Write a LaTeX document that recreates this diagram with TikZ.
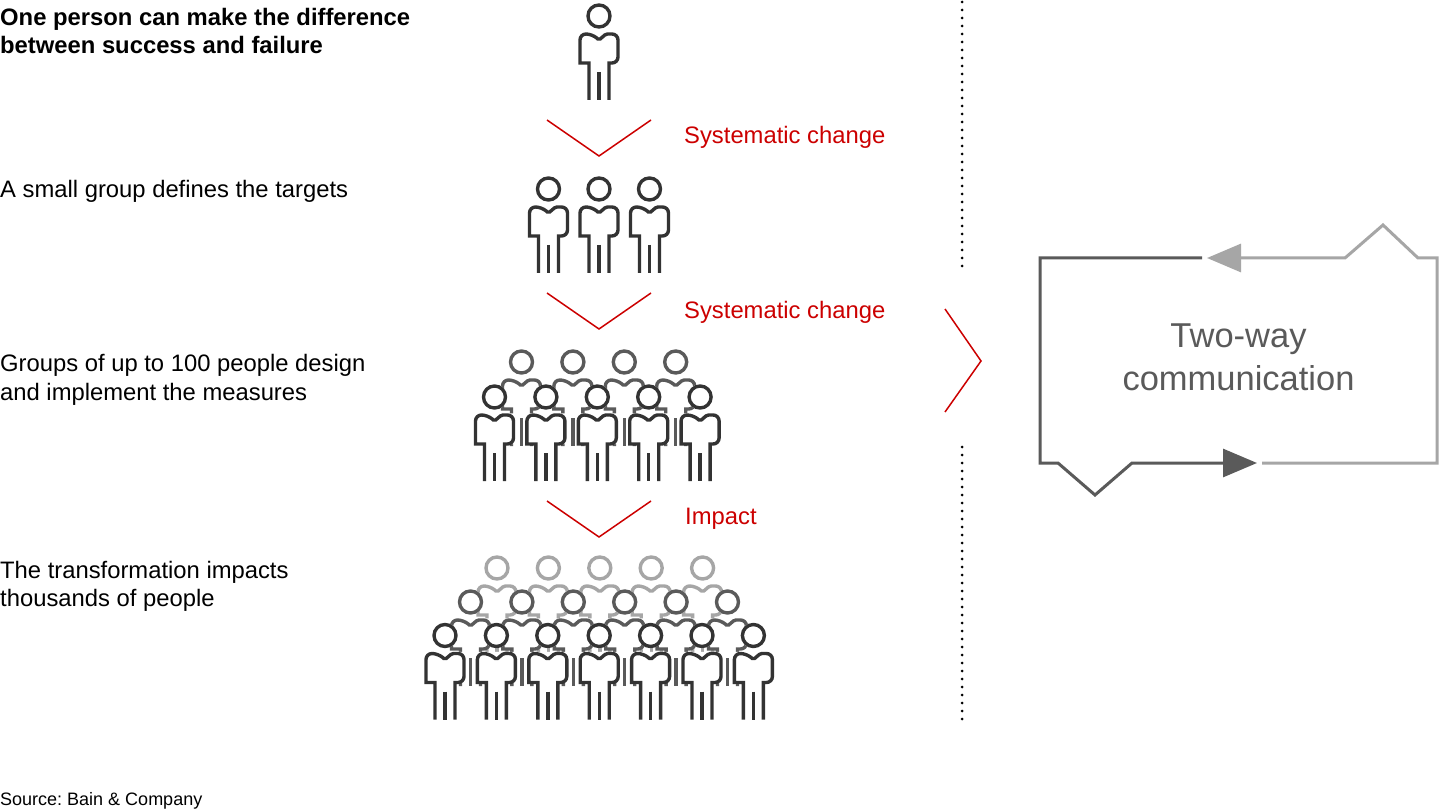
\documentclass[tikz,border=0pt]{standalone}
\usepackage{fontspec}
\setmainfont{Liberation Sans}
\usepackage{tikz}
\usetikzlibrary{calc}
\usetikzlibrary{math}
\usetikzlibrary{arrows.meta}
\definecolor{fonce}{HTML}{333333}
\definecolor{moyen}{HTML}{5A5A5A}
\definecolor{clair}{HTML}{A6A6A6}
\definecolor{rouge}{HTML}{CC0000}
\frenchspacing

\begin{document}
\begin{tikzpicture}[x=1pt,y=-1pt,
        texte/.style={anchor=base west,inner sep=0pt,align=left,font=\fontsize{23.8}{28.5}\selectfont},
        gras/.style={texte,font=\fontsize{23.8}{27.5}\selectfont\bfseries},
        etape/.style={texte,text=rouge},
        chevron/.style={rouge,line width=1.5pt},
        pointille/.style={line width=3pt,line cap=round,dash pattern=on 0pt off 8pt},
        boucle/.style={line width=3pt,-{Triangle[length=34pt,width=28pt]}},
        every pic/.style={line width=3.4pt},
        personne/.pic={
            \fill[white] (0,0) circle (12.7);
            \fill[white] (-10,84) -- (-10,47) -- (-20.7,47) -- (-20.7,16.3) -- (20.7,16.3) -- (20.7,47) -- (10,47) -- (10,84) -- cycle;
            \draw (0,0) circle (11);
            \draw (-10,84) -- (-10,47) -- (-19,47) [rounded corners=6pt] -- (-19,18) -- (-7,18) [rounded corners=1.5pt] -- (0,24) -- (7,18) [rounded corners=6pt] -- (19,18) -- (19,47) [sharp corners] -- (10,47) -- (10,84);
            \draw (0,56) -- (0,84);
        }]
    \fill[white] (0,0) rectangle (1440,810);
    \useasboundingbox (0,0) rectangle (1440,810);
    \tikzmath{\pas = 51.4;}

    \node[gras] (t1) at (0,53.5) {One person can make the difference\\between success and failure};
    \node[texte] (t2) at (0,197.5) {A small group defines the targets};
    \node[texte] (t3) at (0,400) {Groups of up to 100 people design\\and implement the measures};
    \node[texte] (t4) at (0,606.5) {The transformation impacts\\thousands of people};
    \node[texte,font=\fontsize{18}{21}\selectfont] (source) at (0,805) {Source: Bain \& Company};

    \pic[fonce] (seul) at (599,16) {personne};
    \foreach \i in {0,1,2}
        \pic[fonce] at ({548.5+50.5*\i},189) {personne};
    \foreach \i in {0,...,3}
        \pic[moyen] at ({521.5+\pas*\i},362) {personne};
    \foreach \i in {0,...,4}
        \pic[fonce] at ({494.5+\pas*\i},397) {personne};
    \foreach \i in {0,...,4}
        \pic[clair] at ({497+\pas*\i},568) {personne};
    \foreach \i in {0,...,5}
        \pic[moyen] at ({470.5+\pas*\i},602) {personne};
    \foreach \i in {0,...,6}
        \pic[fonce] at ({445+\pas*\i},635.5) {personne};

    \foreach \y in {120,293,501}
        \draw[chevron] (547,\y) -- (599,{\y+36}) -- (651,\y);
    \node[etape] (sc1) at (684,144) {Systematic change};
    \node[etape] (sc2) at (684,318) {Systematic change};
    \node[etape] (impact) at (685,524) {Impact};

    \draw[pointille] (962,2) -- (962,272);
    \draw[pointille] (962,447) -- (962,720);
    \draw[chevron] (945,309) -- (981,361) -- (945,412);

    \coordinate (hg) at (1040,258);
    \coordinate (bg) at (1040,463);
    \coordinate (hd) at (1437,258);
    \coordinate (bd) at (1437,463);
    \coordinate (finhaut) at (1202,258);
    \coordinate (pointehaut) at (1207,258);
    \coordinate (debutbas) at (1262,463);
    \coordinate (pointebas) at (1257,463);
    \draw[boucle,moyen] (finhaut) -- (hg) -- (bg) -- (1058,463) -- (1095,495) -- (1132,463) -- (pointebas);
    \draw[boucle,clair] (debutbas) -- (bd) -- (hd) -- (1418,258) -- (1383,225) -- (1345,258) -- (pointehaut);
    \node[font=\fontsize{34.5}{43}\selectfont,text=moyen,align=center,anchor=base] (comm) at (1238.5,390) {Two-way\\communication};
\end{tikzpicture}
\end{document}
